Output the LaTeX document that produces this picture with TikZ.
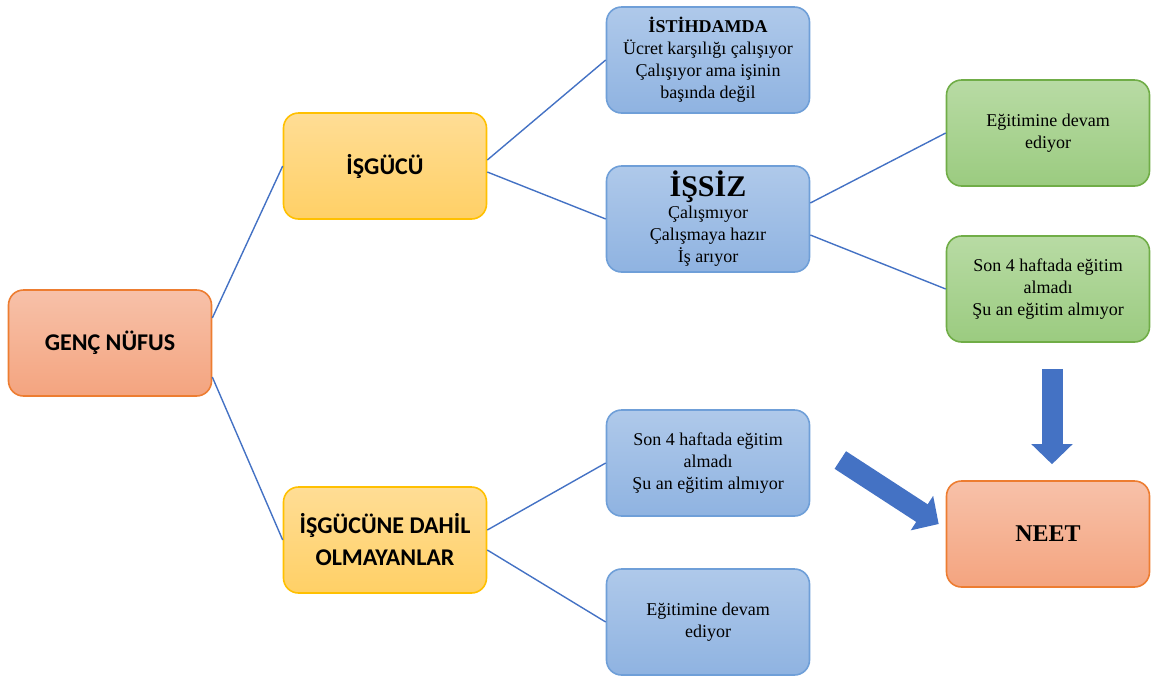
\documentclass[tikz,border=0pt]{standalone}
\usepackage{fontspec}
\setmainfont{Liberation Serif}
\newfontfamily\calibri{Carlito}
\usepackage{xcolor}
\usetikzlibrary{positioning,calc,arrows.meta}

\definecolor{lineblue}{HTML}{4472C4}
\definecolor{orangeline}{HTML}{ED7D31}
\definecolor{orangetop}{HTML}{F7C1A9}
\definecolor{orangebot}{HTML}{F4A47F}
\definecolor{yellowline}{HTML}{FFC000}
\definecolor{yellowtop}{HTML}{FFDD95}
\definecolor{yellowbot}{HTML}{FFD066}
\definecolor{blueline}{HTML}{6F9FD8}
\definecolor{bluetop}{HTML}{AFC9EA}
\definecolor{bluebot}{HTML}{8FB3E1}
\definecolor{greenline}{HTML}{70AD47}
\definecolor{greentop}{HTML}{B8DBA4}
\definecolor{greenbot}{HTML}{9BCB80}

\begin{document}
\begin{tikzpicture}[x=0.5pt,y=-0.5pt,
    box/.style={rounded corners=7.5pt, minimum width=101.5pt, minimum height=53pt,
        align=center, line width=0.8pt, inner sep=2pt},
    orangebox/.style={box, draw=orangeline, top color=orangetop, bottom color=orangebot},
    yellowbox/.style={box, draw=yellowline, top color=yellowtop, bottom color=yellowbot,
        font=\calibri\bfseries\fontsize{12}{16}\selectfont},
    bluebox/.style={box, draw=blueline, top color=bluetop, bottom color=bluebot,
        font=\fontsize{9}{11}\selectfont},
    greenbox/.style={box, draw=greenline, top color=greentop, bottom color=greenbot,
        font=\fontsize{9}{11}\selectfont},
    link/.style={draw=lineblue, line width=0.7pt},
    bigarrow/.style={draw=lineblue, line width=10.5pt, -{Triangle[width=20pt,length=10pt]}}]

    \useasboundingbox (0,0) rectangle (1153,676);

    % first level
    \node[orangebox, font=\calibri\bfseries\fontsize{12}{16}\selectfont] (genc) at (110,343) {GENÇ NÜFUS};
    \node[yellowbox] (isgucu) at (385,166) {İŞGÜCÜ};
    \node[yellowbox] (dahil) at (385,540) {İŞGÜCÜNE DAHİL\\OLMAYANLAR};

    % second level
    \node[bluebox] (istihdam) at (708,60)
        {\textbf{İSTİHDAMDA}\\Ücret karşılığı çalışıyor\\Çalışıyor ama işinin\\başında değil};
    \node[bluebox] (issiz) at (708,219)
        {{\fontsize{15}{15}\selectfont\bfseries İŞSİZ}\\Çalışmıyor\\Çalışmaya hazır\\İş arıyor};
    \node[bluebox] (almadi) at (708,463) {Son 4 haftada eğitim\\almadı\\Şu an eğitim almıyor};
    \node[bluebox] (devam) at (708,622) {Eğitimine devam\\ediyor};

    % third level
    \node[greenbox] (gdevam) at (1048,133) {Eğitimine devam\\ediyor};
    \node[greenbox] (galmadi) at (1048,289) {Son 4 haftada eğitim\\almadı\\Şu an eğitim almıyor};
    \node[orangebox, font=\bfseries\fontsize{12}{14}\selectfont] (neet) at (1048,534) {NEET};

    % connectors
    \draw[link] ($(genc.east)+(0,-25)$) -- (isgucu.west);
    \draw[link] ($(genc.east)+(0,34)$) -- (dahil.west);
    \draw[link] ($(isgucu.east)+(0,-6)$) -- (istihdam.west);
    \draw[link] ($(isgucu.east)+(0,6)$) -- (issiz.west);
    \draw[link] ($(issiz.east)+(0,-16)$) -- (gdevam.west);
    \draw[link] ($(issiz.east)+(0,16)$) -- (galmadi.west);
    \draw[link] ($(dahil.east)+(0,-10)$) -- (almadi.west);
    \draw[link] ($(dahil.east)+(0,10)$) -- (devam.west);

    % big arrows into NEET
    \coordinate (downtop) at ($(galmadi.south)+(4,26)$);
    \coordinate (downtip) at ($(neet.north)+(4,-16)$);
    \coordinate (slanttop) at ($(almadi.east)+(30,-3)$);
    \coordinate (slanttip) at ($(neet.west)+(-7,-10)$);
    \draw[bigarrow] (downtop) -- (downtip);
    \draw[bigarrow] (slanttop) -- (slanttip);
\end{tikzpicture}
\end{document}
